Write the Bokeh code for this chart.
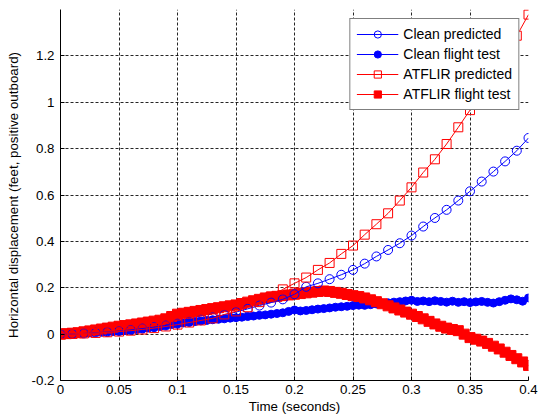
from bokeh.plotting import figure
from bokeh.models import FixedTicker, Legend, LegendItem, Range1d
from bokeh.embed import file_html
from bokeh.resources import INLINE

# ---- data ----
t_pred = [i * 0.01 for i in range(41)]
clean_pred = [0.000, 0.001, 0.003, 0.006, 0.009, 0.013, 0.018, 0.024, 0.030, 0.037,
              0.045, 0.053, 0.062, 0.072, 0.083, 0.095, 0.109, 0.123, 0.136, 0.150,
              0.172, 0.204, 0.219, 0.237, 0.256, 0.277, 0.304, 0.335, 0.363, 0.392,
              0.425, 0.464, 0.501, 0.536, 0.576, 0.616, 0.658, 0.701, 0.745, 0.791,
              0.846]
atflir_pred = [0.000, 0.001, 0.003, 0.005, 0.008, 0.011, 0.015, 0.020, 0.026, 0.033,
               0.041, 0.050, 0.059, 0.068, 0.085, 0.098, 0.116, 0.138, 0.162, 0.193,
               0.219, 0.244, 0.277, 0.307, 0.346, 0.382, 0.429, 0.474, 0.521, 0.576,
               0.633, 0.697, 0.754, 0.820, 0.892, 0.966, 1.040, 1.116, 1.196, 1.287,
               1.378]

t_flight = [i * 0.005 for i in range(81)]
clean_flight = [0.000, 0.001, 0.002, 0.002, 0.004, 0.005, 0.007, 0.008, 0.010, 0.011,
                0.013, 0.015, 0.017, 0.020, 0.023, 0.026, 0.029, 0.033, 0.037, 0.041,
                0.045, 0.048, 0.051, 0.054, 0.057, 0.059, 0.062, 0.064, 0.066, 0.069,
                0.071, 0.073, 0.076, 0.078, 0.081, 0.083, 0.086, 0.089, 0.092, 0.098,
                0.104, 0.100, 0.102, 0.105, 0.108, 0.110, 0.113, 0.116, 0.118, 0.120,
                0.123, 0.125, 0.124, 0.127, 0.130, 0.133, 0.135, 0.138, 0.140, 0.143,
                0.146, 0.141, 0.143, 0.140, 0.144, 0.141, 0.138, 0.142, 0.137, 0.140,
                0.136, 0.139, 0.141, 0.137, 0.134, 0.140, 0.146, 0.152, 0.148, 0.142,
                0.156]
atflir_flight = [0.000, 0.002, 0.004, 0.006, 0.010, 0.014, 0.018, 0.022, 0.026, 0.030,
                 0.034, 0.037, 0.040, 0.044, 0.048, 0.052, 0.056, 0.060, 0.066, 0.076,
                 0.086, 0.090, 0.094, 0.098, 0.102, 0.106, 0.110, 0.114, 0.118, 0.122,
                 0.126, 0.132, 0.138, 0.144, 0.150, 0.156, 0.160, 0.163, 0.166, 0.169,
                 0.172, 0.175, 0.178, 0.181, 0.184, 0.186, 0.184, 0.180, 0.176, 0.171,
                 0.166, 0.162, 0.156, 0.148, 0.140, 0.131, 0.122, 0.113, 0.104, 0.095,
                 0.086, 0.076, 0.066, 0.055, 0.044, 0.034, 0.026, 0.020, 0.015, 0.000,
                 -0.015, -0.022, -0.030, -0.040, -0.052, -0.064, -0.078, -0.092, -0.106, -0.120,
                 -0.135]

x_ticks = [0.0, 0.05, 0.1, 0.15, 0.2, 0.25, 0.3, 0.35, 0.4]
x_tick_labels = ["0", "0.05", "0.1", "0.15", "0.2", "0.25", "0.3", "0.35", "0.4"]
y_ticks = [-0.2, 0.0, 0.2, 0.4, 0.6, 0.8, 1.0, 1.2]
y_tick_labels = ["-0.2", "0", "0.2", "0.4", "0.6", "0.8", "1", "1.2"]

FONT = "Liberation Sans"
BLUE = "#0000ff"
RED = "#ff0000"

p = figure(width=538, height=420, output_backend="svg", toolbar_location=None,
           x_range=Range1d(0, 0.4), y_range=Range1d(-0.2, 1.4),
           min_border_left=60, min_border_right=10, min_border_top=9, min_border_bottom=40)
p.outline_line_color = None
p.background_fill_color = "white"
p.border_fill_color = "white"

for ax, ticks, labels in ((p.xaxis[0], x_ticks, x_tick_labels), (p.yaxis[0], y_ticks, y_tick_labels)):
    ax.ticker = FixedTicker(ticks=ticks)
    ax.major_label_overrides = {t: l for t, l in zip(ticks, labels)}
    ax.major_label_text_font = FONT
    ax.major_label_text_font_size = "10pt"
    ax.major_label_text_color = "black"
    ax.axis_label_text_font = FONT
    ax.axis_label_text_font_size = "10pt"
    ax.axis_label_text_font_style = "normal"
    ax.axis_label_text_color = "black"
    ax.axis_line_color = "black"
    ax.major_tick_in = 4
    ax.major_tick_out = 0
    ax.minor_tick_line_color = None
    ax.major_tick_line_color = "black"

p.xaxis.axis_label = "Time (seconds)"
p.yaxis.axis_label = "Horizontal displacement (feet, positive outboard)"
p.xaxis.major_label_standoff = 4
p.xaxis.axis_label_standoff = 2
p.yaxis.major_label_standoff = 6
p.yaxis.axis_label_standoff = 8

for g in (p.xgrid[0], p.ygrid[0]):
    g.grid_line_color = "black"
    g.grid_line_dash = "3 2"
    g.grid_line_alpha = 0.85

# flight tests (drawn first)
cf_l = p.line(t_flight, clean_flight, line_color=BLUE, line_width=1)
cf_m = p.scatter(t_flight, clean_flight, marker="circle", size=8,
                 fill_color=BLUE, line_color=BLUE)
af_l = p.line(t_flight, atflir_flight, line_color=RED, line_width=1)
af_m = p.scatter(t_flight, atflir_flight, marker="square", size=10,
                 fill_color=RED, line_color=RED)
# predictions
cp_l = p.line(t_pred, clean_pred, line_color=BLUE, line_width=1)
cp_m = p.scatter(t_pred, clean_pred, marker="circle", size=9,
                 fill_color=None, line_color=BLUE, line_width=1)
ap_l = p.line(t_pred, atflir_pred, line_color=RED, line_width=1)
ap_m = p.scatter(t_pred, atflir_pred, marker="square", size=9,
                 fill_color=None, line_color=RED, line_width=1)

legend = Legend(items=[
    LegendItem(label="Clean predicted", renderers=[cp_l, cp_m]),
    LegendItem(label="Clean flight test", renderers=[cf_l, cf_m]),
    LegendItem(label="ATFLIR predicted", renderers=[ap_l, ap_m]),
    LegendItem(label="ATFLIR flight test", renderers=[af_l, af_m]),
], location="top_right")
legend.label_text_font = FONT
legend.label_text_font_size = "14px"
legend.label_text_color = "black"
legend.border_line_color = "black"
legend.border_line_width = 1
legend.background_fill_color = "white"
legend.background_fill_alpha = 1.0
legend.glyph_width = 42
legend.glyph_height = 18
legend.label_height = 18
legend.label_standoff = 5
legend.spacing = 2
legend.padding = 6
legend.margin = 9
p.add_layout(legend)

open("out.html", "w").write(file_html(p, INLINE))
